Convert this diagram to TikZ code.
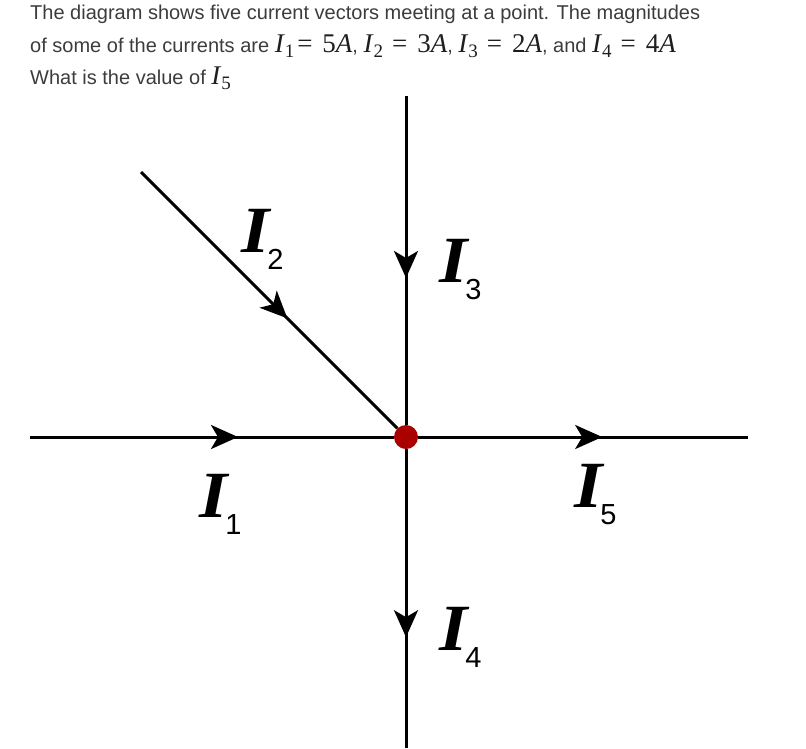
\documentclass[tikz,border=0pt]{standalone}
\usepackage{fontspec}
\usepackage{graphicx}
\setmainfont{Liberation Sans}
\newfontfamily\mathserif{Liberation Serif}
\usetikzlibrary{arrows.meta,decorations.markings}

\definecolor{txtgray}{RGB}{60,60,60}
\definecolor{mathgray}{RGB}{30,30,30}
\definecolor{dotred}{RGB}{170,0,0}

% inline current symbol in the question text
\newcommand\mcur[1]{{\color{mathgray}\mathserif\fontsize{27pt}{27pt}\selectfont\itshape I\kern1pt\raisebox{-5pt}{\upshape\fontsize{19pt}{19pt}\selectfont #1}}}
\newcommand\mval[1]{{\color{mathgray}\mathserif\fontsize{27pt}{27pt}\selectfont #1\itshape A}}
\newcommand\meq[1]{\hspace{#1}{\color{mathgray}\mathserif\fontsize{27pt}{27pt}\selectfont =}\hspace{10pt}}
% current label in the figure
\newcommand\curlbl[1]{\scalebox{1.1}[1]{\mathserif\bfseries\itshape\fontsize{66pt}{66pt}\selectfont I}\kern-2pt\raisebox{-17pt}{\fontsize{29pt}{29pt}\selectfont #1}}

\tikzset{
  hdr/.style={anchor=base west,inner sep=0,text=txtgray,font=\fontsize{20pt}{24pt}\selectfont},
  lbl/.style={anchor=base west,inner sep=0},
  current/.style={line width=3pt,postaction={decorate},
    decoration={markings,mark=at position #1 with {\arrow{Stealth[length=27pt,width=24pt,inset=7pt]}}}},
  junction/.style={circle,fill=dotred,minimum size=24pt,inner sep=0},
}

\begin{document}
\begin{tikzpicture}[x=1pt,y=-1pt]
  \useasboundingbox (0,0) rectangle (806,748);

  \node[hdr] (q1) at (30,19) {The diagram shows five current vectors meeting at a point. The magnitudes};
  \node[hdr] (q2) at (30,52) {of some of the currents are \mcur{1}\meq{3pt}\mval{5}, \mcur{2}\meq{9pt}\mval{3}, \mcur{3}\meq{9pt}\mval{2}, and \mcur{4}\meq{9pt}\mval{4}};
  \node[hdr] (q3) at (30,84) {What is the value of \mcur{5}};

  \node[junction] (o) at (406,437) {};
  \coordinate (w) at (30,437);
  \coordinate (e) at (748,437);
  \coordinate (n) at (406,96);
  \coordinate (s) at (406,748);
  \coordinate (nw) at (141,172);

  \draw[current=208pt] (w) -- (o);
  \draw[current=207pt] (nw) -- (o);
  \draw[current=182pt] (n) -- (o);
  \draw[current=184pt] (o) -- (e);
  \draw[current=188pt] (o) -- (s);

  \node[lbl] (l1) at (199,517) {\curlbl{1}};
  \node[lbl] (l2) at (241,252) {\curlbl{2}};
  \node[lbl] (l3) at (439,282) {\curlbl{3}};
  \node[lbl] (l4) at (439,650) {\curlbl{4}};
  \node[lbl] (l5) at (574,507) {\curlbl{5}};
\end{tikzpicture}
\end{document}
